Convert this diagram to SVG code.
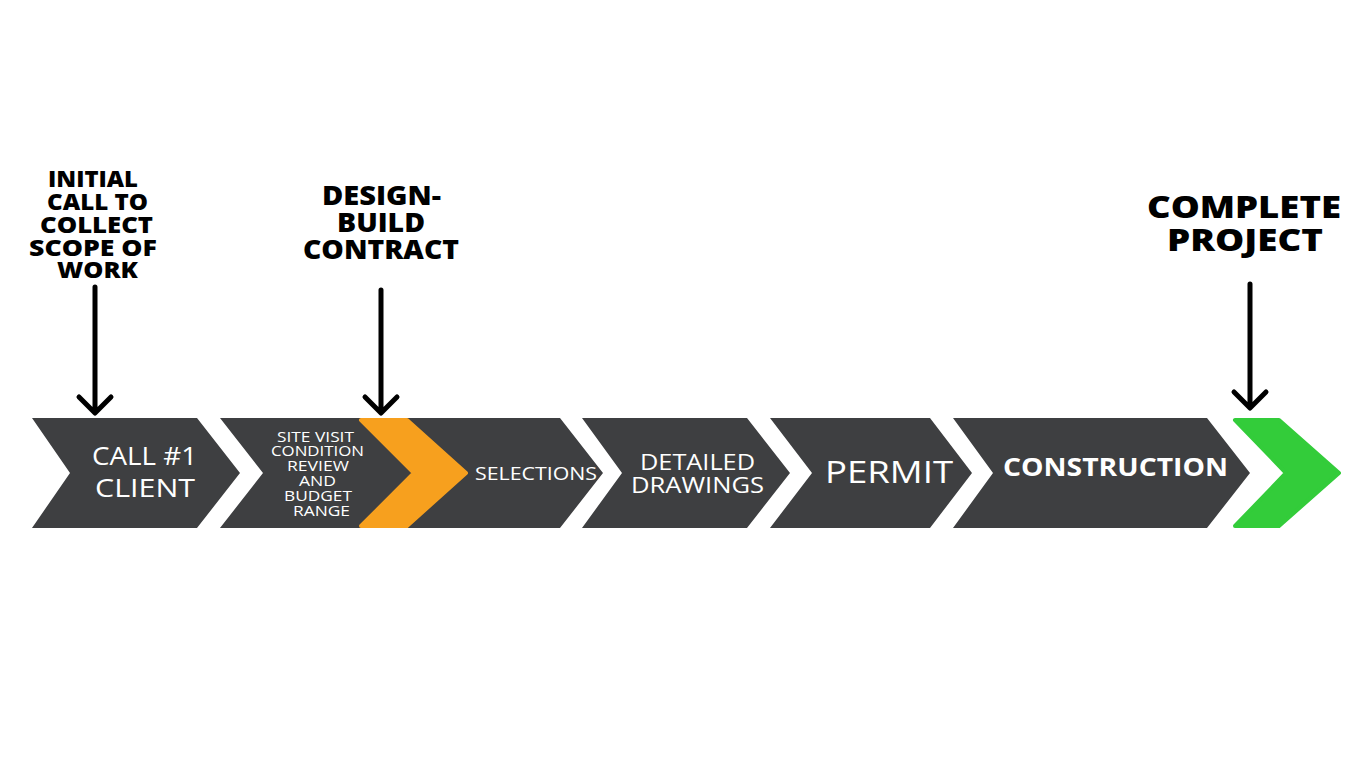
<svg xmlns="http://www.w3.org/2000/svg" width="1366" height="768" viewBox="0 0 1366 768">
<style>
.chev{fill:#3e3f41}
.acc{stroke-width:4;stroke-linejoin:round}
.t{font-family:"Open Sans","Liberation Sans",sans-serif;fill:#ffffff;text-anchor:middle}
.h{font-family:"Open Sans","Liberation Sans",sans-serif;font-weight:800;fill:#000000;text-anchor:middle}
.arr{stroke:#000;stroke-width:5;stroke-linecap:round;stroke-linejoin:round;fill:none}
</style>
<rect width="1366" height="768" fill="#ffffff"/>
<g id="node-call1">
<path class="chev" d="M32,418 L197,418 L240,473 L197,528 L32,528 L70,473 Z"/>
<text class="t" font-size="25" x="144.5" y="465" textLength="105" lengthAdjust="spacingAndGlyphs">CALL #1</text>
<text class="t" font-size="25" x="145" y="497" textLength="100" lengthAdjust="spacingAndGlyphs">CLIENT</text>
</g>
<g id="node-selections">
<path class="chev" d="M380,418 L560,418 L603,473 L560,528 L380,528 L422,473 Z"/>
<text class="t" font-size="19" x="536" y="480" textLength="122" lengthAdjust="spacingAndGlyphs">SELECTIONS</text>
</g>
<g id="node-sitevisit">
<path class="chev" d="M220,418 L400,418 L443,473 L400,528 L220,528 L263,473 Z"/>
<text class="t" font-size="14" x="315.5" y="442" textLength="77" lengthAdjust="spacingAndGlyphs">SITE VISIT</text>
<text class="t" font-size="14" x="317.5" y="456" textLength="93" lengthAdjust="spacingAndGlyphs">CONDITION</text>
<text class="t" font-size="14" x="318" y="471" textLength="62" lengthAdjust="spacingAndGlyphs">REVIEW</text>
<text class="t" font-size="14" x="317.5" y="486" textLength="37" lengthAdjust="spacingAndGlyphs">AND</text>
<text class="t" font-size="14" x="318" y="501" textLength="68" lengthAdjust="spacingAndGlyphs">BUDGET</text>
<text class="t" font-size="14" x="321.5" y="516" textLength="57" lengthAdjust="spacingAndGlyphs">RANGE</text>
</g>
<g id="node-contract-marker">
<path class="acc" fill="#f7a01e" stroke="#f7a01e" d="M361,420 L407,420 L466,473 L407,526 L361,526 L414,473 Z"/>
</g>
<g id="node-drawings">
<path class="chev" d="M582,418 L747,418 L790,473 L747,528 L582,528 L622,473 Z"/>
<text class="t" font-size="22" x="697.5" y="470" textLength="115" lengthAdjust="spacingAndGlyphs">DETAILED</text>
<text class="t" font-size="22" x="697.5" y="493" textLength="133" lengthAdjust="spacingAndGlyphs">DRAWINGS</text>
</g>
<g id="node-permit">
<path class="chev" d="M770,418 L930,418 L972,473 L930,528 L770,528 L812,473 Z"/>
<text class="t" font-size="31" x="889" y="483" textLength="128" lengthAdjust="spacingAndGlyphs">PERMIT</text>
</g>
<g id="node-construction">
<path class="chev" d="M953,418 L1207,418 L1250,473 L1207,528 L953,528 L993,473 Z"/>
<text class="t" font-size="25" font-weight="700" x="1115.5" y="476" textLength="225" lengthAdjust="spacingAndGlyphs">CONSTRUCTION</text>
</g>
<g id="node-complete-marker">
<path class="acc" fill="#33cc3a" stroke="#33cc3a" d="M1235,420 L1279,420 L1339,473 L1279,526 L1235,526 L1286,473 Z"/>
</g>
<g id="label-initial">
<text class="h" font-size="23" x="93" y="187" textLength="90" lengthAdjust="spacingAndGlyphs">INITIAL</text>
<text class="h" font-size="23" x="97.5" y="210" textLength="101" lengthAdjust="spacingAndGlyphs">CALL TO</text>
<text class="h" font-size="23" x="96.5" y="233" textLength="113" lengthAdjust="spacingAndGlyphs">COLLECT</text>
<text class="h" font-size="23" x="93" y="256" textLength="128" lengthAdjust="spacingAndGlyphs">SCOPE OF</text>
<text class="h" font-size="23" x="97.5" y="278" textLength="81" lengthAdjust="spacingAndGlyphs">WORK</text>
</g>
<g id="label-design">
<text class="h" font-size="26" x="381.5" y="205" textLength="119" lengthAdjust="spacingAndGlyphs">DESIGN-</text>
<text class="h" font-size="26" x="381" y="232" textLength="88" lengthAdjust="spacingAndGlyphs">BUILD</text>
<text class="h" font-size="26" x="381" y="259" textLength="156" lengthAdjust="spacingAndGlyphs">CONTRACT</text>
</g>
<g id="label-complete">
<text class="h" font-size="30" x="1244" y="218" textLength="194" lengthAdjust="spacingAndGlyphs">COMPLETE</text>
<text class="h" font-size="30" x="1245" y="251" textLength="156" lengthAdjust="spacingAndGlyphs">PROJECT</text>
</g>
<g id="connectors">
<path class="arr" d="M95,287 L95,412 M79,397 L95,413 L111,397"/>
<path class="arr" d="M381,290 L381,412 M365,397 L381,413 L397,397"/>
<path class="arr" d="M1250,284 L1250,407 M1234,392 L1250,408 L1266,392"/>
</g>
</svg>
